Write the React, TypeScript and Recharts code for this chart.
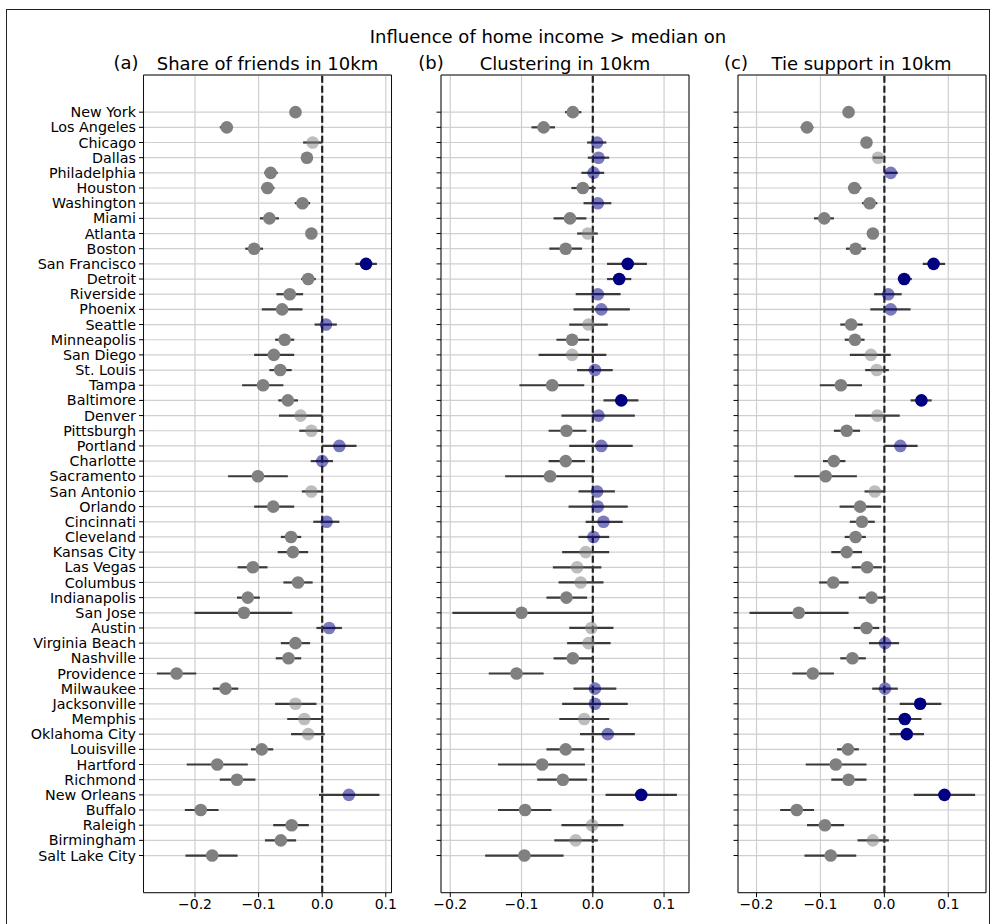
import React from 'react';
import {
  CartesianGrid,
  ErrorBar,
  ReferenceArea,
  ReferenceLine,
  Scatter,
  ScatterChart,
  XAxis,
  YAxis,
} from 'recharts';

const cities = [
  'New York', 'Los Angeles', 'Chicago', 'Dallas', 'Philadelphia', 'Houston', 'Washington', 'Miami',
  'Atlanta', 'Boston', 'San Francisco', 'Detroit', 'Riverside', 'Phoenix', 'Seattle', 'Minneapolis',
  'San Diego', 'St. Louis', 'Tampa', 'Baltimore', 'Denver', 'Pittsburgh', 'Portland', 'Charlotte',
  'Sacramento', 'San Antonio', 'Orlando', 'Cincinnati', 'Cleveland', 'Kansas City', 'Las Vegas',
  'Columbus', 'Indianapolis', 'San Jose', 'Austin', 'Virginia Beach', 'Nashville', 'Providence',
  'Milwaukee', 'Jacksonville', 'Memphis', 'Oklahoma City', 'Louisville', 'Hartford', 'Richmond',
  'New Orleans', 'Buffalo', 'Raleigh', 'Birmingham', 'Salt Lake City',
];

// (a) share of friends in 10km
const shareMean = [
  -0.042, -0.150, -0.015, -0.024, -0.081, -0.086, -0.031, -0.083, -0.017, -0.107,
  0.069, -0.022, -0.051, -0.063, 0.006, -0.059, -0.076, -0.066, -0.093, -0.054,
  -0.034, -0.017, 0.027, 0.000, -0.101, -0.017, -0.077, 0.007, -0.049, -0.046,
  -0.109, -0.038, -0.117, -0.123, 0.011, -0.042, -0.053, -0.229, -0.152, -0.042,
  -0.028, -0.022, -0.095, -0.165, -0.134, 0.042, -0.191, -0.048, -0.065, -0.173,
];
const shareLow = [
  -0.047, -0.161, -0.030, -0.029, -0.091, -0.096, -0.043, -0.098, -0.022, -0.121,
  0.052, -0.033, -0.072, -0.095, -0.012, -0.074, -0.107, -0.083, -0.126, -0.069,
  -0.068, -0.036, 0.000, -0.018, -0.148, -0.032, -0.107, -0.014, -0.065, -0.070,
  -0.133, -0.061, -0.134, -0.201, -0.009, -0.065, -0.073, -0.260, -0.172, -0.074,
  -0.055, -0.049, -0.112, -0.213, -0.161, -0.005, -0.216, -0.077, -0.090, -0.215,
];
const shareHigh = [
  -0.037, -0.141, 0.000, -0.019, -0.070, -0.075, -0.019, -0.068, -0.012, -0.093,
  0.086, -0.010, -0.030, -0.031, 0.023, -0.044, -0.044, -0.048, -0.061, -0.038,
  0.000, 0.000, 0.054, 0.017, -0.054, 0.000, -0.044, 0.027, -0.033, -0.022,
  -0.086, -0.015, -0.098, -0.047, 0.031, -0.019, -0.033, -0.198, -0.132, -0.009,
  -0.002, 0.004, -0.077, -0.117, -0.105, 0.090, -0.163, -0.021, -0.041, -0.133,
];
const shareSig = [
  1, 1, 0, 1, 1, 1, 1, 1, 1, 1, 1, 1, 1, 1, 0, 1, 1, 1, 1, 1, 0, 0, 0, 0, 1,
  0, 1, 0, 1, 1, 1, 1, 1, 1, 0, 1, 1, 1, 1, 0, 0, 0, 1, 1, 1, 0, 1, 1, 1, 1,
];

// (b) clustering in 10km
const clusterMean = [
  -0.028, -0.069, 0.006, 0.008, 0.001, -0.014, 0.007, -0.032, -0.007, -0.038,
  0.049, 0.037, 0.007, 0.012, -0.006, -0.029, -0.029, 0.003, -0.057, 0.040,
  0.008, -0.037, 0.012, -0.038, -0.060, 0.006, 0.007, 0.015, 0.001, -0.010,
  -0.022, -0.017, -0.037, -0.100, -0.002, -0.006, -0.028, -0.107, 0.003, 0.003,
  -0.012, 0.021, -0.038, -0.071, -0.042, 0.068, -0.095, -0.001, -0.024, -0.096,
];
const clusterLow = [
  -0.039, -0.086, -0.008, -0.007, -0.016, -0.030, -0.013, -0.055, -0.022, -0.061,
  0.020, 0.020, -0.024, -0.027, -0.033, -0.051, -0.076, -0.022, -0.103, 0.015,
  -0.044, -0.062, -0.033, -0.062, -0.123, -0.020, -0.034, -0.010, -0.020, -0.043,
  -0.056, -0.048, -0.065, -0.197, -0.033, -0.036, -0.055, -0.146, -0.027, -0.043,
  -0.047, -0.018, -0.065, -0.133, -0.078, 0.018, -0.133, -0.044, -0.054, -0.151,
];
const clusterHigh = [
  -0.016, -0.053, 0.019, 0.023, 0.016, 0.004, 0.026, -0.009, 0.007, -0.015,
  0.076, 0.054, 0.039, 0.052, 0.021, -0.005, 0.019, 0.028, -0.012, 0.064,
  0.059, -0.009, 0.056, -0.011, 0.000, 0.031, 0.049, 0.042, 0.023, 0.023,
  0.012, 0.015, -0.008, 0.000, 0.029, 0.025, 0.000, -0.069, 0.033, 0.049,
  0.023, 0.059, -0.012, -0.011, -0.008, 0.118, -0.058, 0.043, 0.007, -0.041,
];
const clusterSig = [
  1, 1, 0, 0, 0, 1, 0, 1, 0, 1, 1, 1, 0, 0, 0, 1, 0, 0, 1, 1, 0, 1, 0, 1, 1,
  0, 0, 0, 0, 0, 0, 0, 1, 1, 0, 0, 1, 1, 0, 0, 0, 0, 1, 1, 1, 1, 1, 0, 0, 1,
];

// (c) tie support in 10km
const tieMean = [
  -0.056, -0.121, -0.028, -0.010, 0.010, -0.047, -0.023, -0.094, -0.018, -0.045,
  0.077, 0.031, 0.006, 0.010, -0.052, -0.046, -0.021, -0.012, -0.068, 0.058,
  -0.011, -0.059, 0.025, -0.079, -0.092, -0.015, -0.038, -0.035, -0.045, -0.059,
  -0.027, -0.080, -0.020, -0.134, -0.028, 0.001, -0.050, -0.112, 0.001, 0.056,
  0.032, 0.035, -0.057, -0.076, -0.056, 0.094, -0.137, -0.093, -0.018, -0.084,
];
const tieLow = [
  -0.061, -0.131, -0.033, -0.018, 0.000, -0.057, -0.035, -0.110, -0.023, -0.060,
  0.060, 0.021, -0.016, -0.022, -0.069, -0.062, -0.054, -0.030, -0.101, 0.041,
  -0.046, -0.079, 0.000, -0.096, -0.141, -0.031, -0.070, -0.054, -0.062, -0.083,
  -0.051, -0.102, -0.040, -0.211, -0.048, -0.024, -0.069, -0.144, -0.019, 0.024,
  0.005, 0.008, -0.074, -0.123, -0.083, 0.046, -0.163, -0.121, -0.042, -0.125,
];
const tieHigh = [
  -0.051, -0.111, -0.023, 0.000, 0.021, -0.036, -0.011, -0.079, -0.013, -0.029,
  0.095, 0.043, 0.027, 0.041, -0.034, -0.031, 0.010, 0.007, -0.035, 0.074,
  0.024, -0.038, 0.052, -0.061, -0.043, 0.000, -0.005, -0.015, -0.029, -0.035,
  -0.004, -0.056, 0.000, -0.056, -0.008, 0.023, -0.029, -0.079, 0.021, 0.089,
  0.058, 0.062, -0.040, -0.028, -0.028, 0.142, -0.110, -0.063, 0.007, -0.044,
];
const tieSig = [
  1, 1, 1, 0, 0, 1, 1, 1, 1, 1, 1, 1, 0, 0, 1, 1, 0, 0, 1, 1, 0, 1, 0, 1, 1,
  0, 1, 1, 1, 1, 1, 1, 1, 1, 1, 0, 1, 1, 0, 1, 1, 1, 1, 1, 1, 1, 1, 1, 0, 1,
];

const xTicks = [-0.2, -0.1, 0, 0.1];
const rowTicks = cities.map((_, i) => i);
const Y_DOMAIN: [number, number] = [-2.45, 51.45];
const FONT = '"DejaVu Sans", sans-serif';

function buildRows(mean: number[], low: number[], high: number[], sig: number[]) {
  return mean.map((m, i) => ({
    row: i,
    x: m,
    err: [m - low[i], high[i] - m],
    color: m >= 0 ? '#000080' : '#808080',
    alpha: sig[i] ? 1 : 0.52,
  }));
}

function Dot(props: any) {
  const { cx, cy, payload } = props;
  if (cx == null || cy == null) return null;
  return <circle cx={cx} cy={cy} r={6.3} fill={payload.color} fillOpacity={payload.alpha} />;
}

const fmt = (v: number) => (v < 0 ? '\u2212' : '') + Math.abs(v).toFixed(1);

interface PanelProps {
  left: number;
  yWidth: number;
  domain: [number, number];
  data: ReturnType<typeof buildRows>;
  showNames: boolean;
}

function Panel({ left, yWidth, domain, data, showNames }: PanelProps) {
  const plotW = 248;
  return (
    <div style={{ position: 'absolute', left, top: 0 }}>
      <ScatterChart
        width={yWidth + plotW + 6}
        height={924}
        margin={{ top: 75, right: 6, bottom: 1.3, left: 0 }}
      >
        <CartesianGrid stroke="#cfcfcf" strokeWidth={1.2} />
        <XAxis
          type="number"
          dataKey="x"
          domain={domain}
          ticks={xTicks}
          allowDataOverflow
          tickFormatter={fmt}
          height={30}
          axisLine={false}
          tickLine={{ stroke: '#000' }}
          tickSize={4.5}
          tick={{ fontSize: 14, fill: '#000', fontFamily: FONT }}
        />
        <YAxis
          type="number"
          dataKey="row"
          domain={Y_DOMAIN}
          ticks={rowTicks}
          interval={0}
          reversed
          allowDataOverflow
          width={yWidth}
          axisLine={false}
          tickLine={{ stroke: '#000' }}
          tickSize={4.5}
          tickMargin={3}
          tickFormatter={(i: number) => (showNames ? cities[i] : '')}
          tick={{ fontSize: 14.3, fill: '#000', fontFamily: FONT }}
        />
        <ReferenceArea
          x1={domain[0]}
          x2={domain[1]}
          y1={Y_DOMAIN[0]}
          y2={Y_DOMAIN[1]}
          fill="none"
          stroke="#111"
          strokeWidth={1}
          ifOverflow="visible"
        />
        <ReferenceLine x={0} stroke="#222" strokeWidth={2.2} strokeDasharray="7 3" />
        <Scatter data={data} shape={<Dot />} isAnimationActive={false}>
          <ErrorBar dataKey="err" direction="x" width={0} stroke="#3a3a3a" strokeWidth={2.2} />
        </Scatter>
      </ScatterChart>
    </div>
  );
}

const panels = [
  { key: 'a', letter: '(a)', letterX: 126, title: 'Share of friends in 10km', left: 0, yWidth: 143.5, domain: [-0.281, 0.109] as [number, number], data: buildRows(shareMean, shareLow, shareHigh, shareSig) },
  { key: 'b', letter: '(b)', letterX: 431, title: 'Clustering in 10km', left: 431, yWidth: 10, domain: [-0.213, 0.135] as [number, number], data: buildRows(clusterMean, clusterLow, clusterHigh, clusterSig) },
  { key: 'c', letter: '(c)', letterX: 736, title: 'Tie support in 10km', left: 727.5, yWidth: 10, domain: [-0.229, 0.159] as [number, number], data: buildRows(tieMean, tieLow, tieHigh, tieSig) },
];

export default function App() {
  return (
    <div style={{ position: 'absolute', left: 0, top: 0, width: 993, height: 924, overflow: 'hidden', background: '#fff', fontFamily: FONT }}>
      <div style={{ position: 'absolute', left: 6, top: 9, width: 982, height: 1000, border: '1.5px solid #222' }} />
      <div style={{ position: 'absolute', left: 548, top: 36, transform: 'translate(-50%, -50%)', fontSize: 18, whiteSpace: 'nowrap' }}>
        Influence of home income &gt; median on
      </div>
      {panels.map((p) => {
        const plotLeft = p.left + p.yWidth;
        return (
          <React.Fragment key={p.key}>
            <div style={{ position: 'absolute', left: p.letterX, top: 62, transform: 'translate(-50%, -50%)', fontSize: 18, whiteSpace: 'nowrap' }}>
              {p.letter}
            </div>
            <div style={{ position: 'absolute', left: plotLeft + 124, top: 63, transform: 'translate(-50%, -50%)', fontSize: 18, whiteSpace: 'nowrap' }}>
              {p.title}
            </div>
            <Panel left={p.left} yWidth={p.yWidth} domain={p.domain} data={p.data} showNames={p.key === 'a'} />
          </React.Fragment>
        );
      })}
    </div>
  );
}
